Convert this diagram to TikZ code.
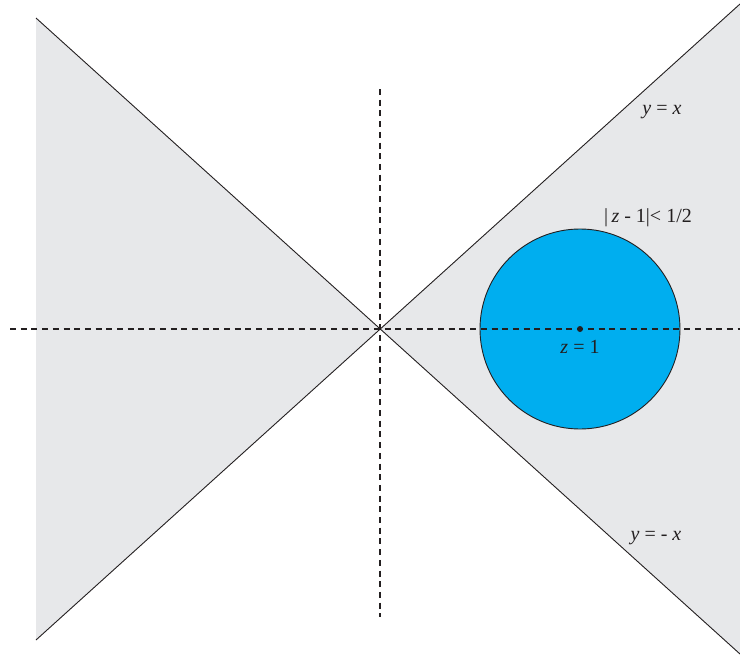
\documentclass[tikz,border=0pt]{standalone}
\usepackage{fontspec}
\setmainfont{Liberation Serif}
\definecolor{regiongray}{RGB}{231,232,234}
\definecolor{diskblue}{RGB}{0,174,239}
\definecolor{inkdark}{RGB}{35,31,32}
\begin{document}
\begin{tikzpicture}[x=1pt,y=-1pt,
  region/.style={fill=regiongray,draw=none},
  boundary/.style={draw=inkdark,line width=0.9pt},
  axisline/.style={draw=inkdark,line width=2.8pt,dash pattern=on 6pt off 4.7pt},
  lbl/.style={font=\fontsize{20}{24}\selectfont,text=inkdark,inner sep=0pt}]
\useasboundingbox (0,0) rectangle (740,659);
\coordinate (O) at (380,329);
\coordinate (TL) at (36,18);
\coordinate (BL) at (36,640);
\coordinate (TR) at (740,4);
\coordinate (BR) at (740,654);
\coordinate (C) at (580,329);
\coordinate (HA) at (10,329);
\coordinate (HB) at (740,329);
\coordinate (VA) at (380,89);
\coordinate (VB) at (380,617);
% shaded regions
\fill[region] (TL) -- (O) -- (BL) -- cycle;
\fill[region] (TR) -- (O) -- (BR) -- cycle;
% disk
\node[circle,minimum size=200pt,inner sep=0pt,fill=diskblue,draw=inkdark,line width=0.9pt] (disk) at (C) {};
% axes
\draw[axisline] (HA) -- (HB);
\draw[axisline] (VA) -- (VB);
% boundary lines
\draw[boundary] (TL) -- (BR);
\draw[boundary] (BL) -- (TR);
% center point
\node[circle,fill=inkdark,minimum size=6pt,inner sep=0pt] (pt) at (C) {};
% labels
\node[lbl] (lyx) at (662,112) {\textit{y} = \textit{x}};
\node[lbl] (ldisk) at (648,218) {|\,\textit{z} - 1|< 1/2};
\node[lbl] (lz) at (580,347) {\textit{z} = 1};
\node[lbl] (lymx) at (656,538) {\textit{y} = - \textit{x}};
\end{tikzpicture}
\end{document}
